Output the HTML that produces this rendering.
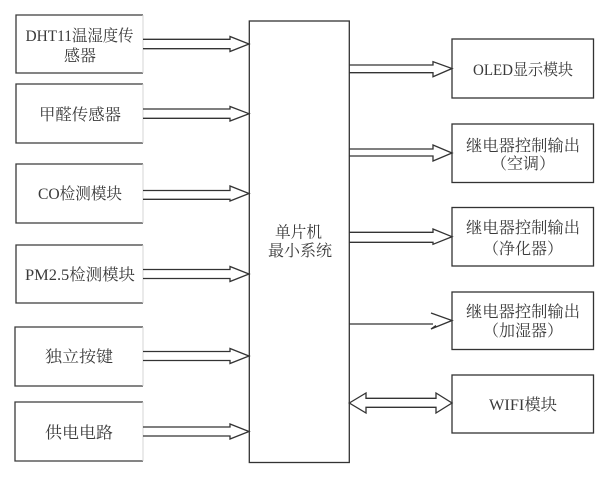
<!DOCTYPE html>
<html>
<head>
<meta charset="utf-8">
<style>
html,body{margin:0;padding:0;background:#fff;}
svg{display:block;}
text{font-family:"Liberation Serif","Noto Serif CJK SC",serif;font-size:16px;fill:#3a3a3a;}
</style>
</head>
<body>
<svg width="600" height="482" viewBox="0 0 600 482" xmlns="http://www.w3.org/2000/svg">
<g fill="none" stroke="#3a3a3a" stroke-width="1.3">
  <path d="M143,15 H16 V73 H143"/>
  <path d="M143,84 H16 V143 H143"/>
  <path d="M143,164 H16 V223 H143"/>
  <path d="M143,245 H16 V303 H143"/>
  <path d="M143,327 H15 V386 H143"/>
  <path d="M143,402 H15 V461 H143"/>
</g>
<g fill="none" stroke="#d6d6d6" stroke-width="1">
  <line x1="143" y1="15" x2="143" y2="73"/>
  <line x1="143" y1="84" x2="143" y2="143"/>
  <line x1="143" y1="164" x2="143" y2="223"/>
  <line x1="143" y1="245" x2="143" y2="303"/>
  <line x1="143" y1="327" x2="143" y2="386"/>
  <line x1="143" y1="402" x2="143" y2="461"/>
</g>
<g fill="none" stroke="#333" stroke-width="1.3">
  <rect x="249.3" y="21" width="100" height="441.5"/>
  <rect x="452" y="39" width="141.5" height="59"/>
  <rect x="452" y="124" width="141.5" height="58.5"/>
  <rect x="452" y="207.5" width="141.5" height="58.5"/>
  <rect x="452" y="292" width="141.5" height="57.5"/>
  <rect x="452" y="375" width="141.5" height="58"/>
</g>
<g fill="none" stroke="#333" stroke-width="1.3" stroke-linejoin="miter">
  <path d="M143,39.3 H230 V36.5 L249,44 L230,51.5 V48.7 H143"/>
  <path d="M143,109 H230 V106.5 L249,113.7 L230,121 V118.3 H143"/>
  <path d="M143,190.5 H230 V186 L249,193.5 L230,201 V199.3 H143"/>
  <path d="M143,269.5 H230 V266.5 L249,274 L230,281.5 V278.5 H143"/>
  <path d="M143,351.5 H230 V348.5 L249,356 L230,363.5 V360.5 H143"/>
  <path d="M143,427 H230 V424 L249,431.5 L230,439 V436 H143"/>
</g>
<g fill="none" stroke="#333" stroke-width="1.3">
  <path d="M349.3,65 H433 V61.7 L452,68.5 L433,76.7 V72.7 H349.3"/>
  <path d="M349.3,149 H433 V145 L452,153 L433,161 V156 H349.3"/>
  <path d="M349.3,232.3 H433 V229 L452,236.7 L433,244.3 V242.3 H349.3"/>
  <path d="M349.3,324 H433 M431,313 L452,320.5 L431,329 L436,325.5"/>
  <path d="M349.3,403 L366,393 V398.3 H436 V393 L452,403 L436,413 V407.3 H366 V413 Z"/>
</g>
<text x="79.5" y="41" text-anchor="middle" textLength="108" lengthAdjust="spacingAndGlyphs">DHT11温湿度传</text>
<text x="80" y="61" text-anchor="middle">感器</text>
<text x="80" y="120" text-anchor="middle" textLength="82" lengthAdjust="spacingAndGlyphs">甲醛传感器</text>
<text x="80" y="199" text-anchor="middle" textLength="84" lengthAdjust="spacingAndGlyphs">CO检测模块</text>
<text x="80" y="280" text-anchor="middle" textLength="110" lengthAdjust="spacingAndGlyphs">PM2.5检测模块</text>
<text x="79" y="362" text-anchor="middle" textLength="68" lengthAdjust="spacingAndGlyphs">独立按键</text>
<text x="79" y="438" text-anchor="middle" textLength="68" lengthAdjust="spacingAndGlyphs">供电电路</text>
<text x="298.5" y="237.5" text-anchor="middle" textLength="47" lengthAdjust="spacingAndGlyphs">单片机</text>
<text x="300" y="256" text-anchor="middle" textLength="64" lengthAdjust="spacingAndGlyphs">最小系统</text>
<text x="523" y="75" text-anchor="middle" textLength="100" lengthAdjust="spacingAndGlyphs">OLED显示模块</text>
<text x="523" y="151" text-anchor="middle" textLength="114" lengthAdjust="spacingAndGlyphs">继电器控制输出</text>
<text x="523" y="169" text-anchor="middle" textLength="64" lengthAdjust="spacingAndGlyphs">（空调）</text>
<text x="523" y="233" text-anchor="middle" textLength="114" lengthAdjust="spacingAndGlyphs">继电器控制输出</text>
<text x="523" y="254" text-anchor="middle" textLength="80" lengthAdjust="spacingAndGlyphs">（净化器）</text>
<text x="523" y="317" text-anchor="middle" textLength="114" lengthAdjust="spacingAndGlyphs">继电器控制输出</text>
<text x="523" y="336" text-anchor="middle" textLength="80" lengthAdjust="spacingAndGlyphs">（加湿器）</text>
<text x="523" y="410" text-anchor="middle" textLength="68" lengthAdjust="spacingAndGlyphs">WIFI模块</text>
</svg>
</body>
</html>
